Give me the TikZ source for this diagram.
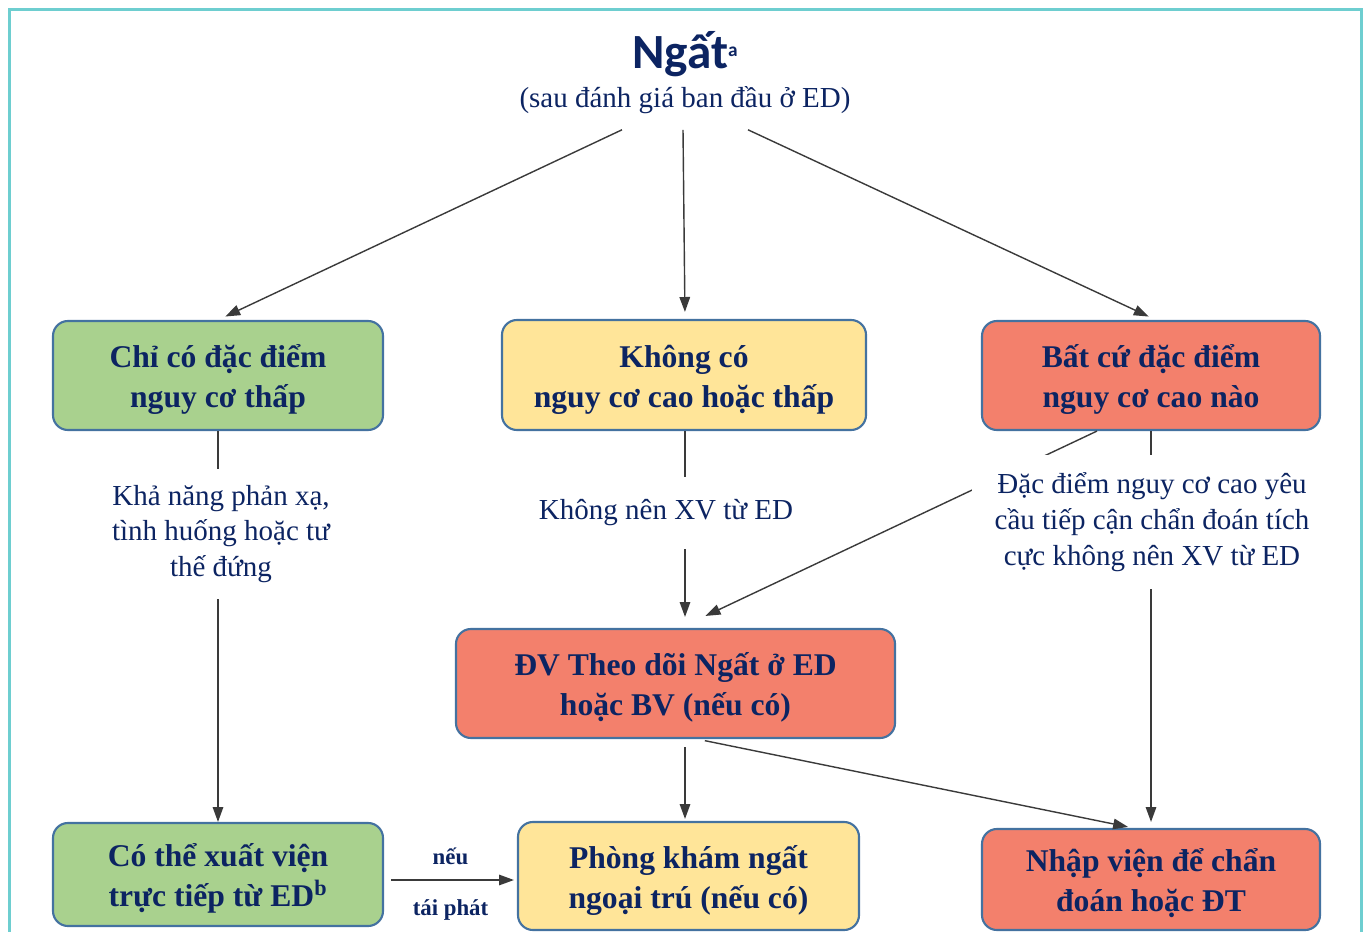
\documentclass[tikz,border=0pt]{standalone}
\usepackage{fontspec}
\setmainfont{Liberation Serif}
\newfontfamily\titlefont{Carlito}
\usetikzlibrary{arrows.meta,positioning}

\definecolor{navy}{RGB}{12,36,98}
\definecolor{frameteal}{RGB}{110,206,208}
\definecolor{boxline}{RGB}{68,114,160}
\definecolor{lowgreen}{RGB}{169,209,142}
\definecolor{midyellow}{RGB}{255,229,153}
\definecolor{highred}{RGB}{243,128,108}
\definecolor{arrowgray}{RGB}{58,58,58}
\def\pu{0.02cm}

\begin{document}
\begin{tikzpicture}[x=0.02cm,y=-0.02cm,
  box/.style={draw=boxline, line width=1.2pt, rounded corners=8.5pt, align=center,
    text=navy, inner sep=0pt, font=\fontsize{18}{22.7}\selectfont\bfseries,
    text height=41.8pt, text depth=5pt},
  greenbox/.style={box, fill=lowgreen},
  yellowbox/.style={box, fill=midyellow},
  redbox/.style={box, fill=highred},
  lbl/.style={align=center, text=navy, inner sep=9pt, font=\fontsize{16.5}{20.4}\selectfont},
  arr/.style={draw=arrowgray, line width=0.8pt, -{Triangle[length=8.5pt,width=6pt]}},
  conn/.style={draw=arrowgray, line width=0.8pt}
]
\clip (0,0) rectangle (1368,932);
\draw[frameteal, line width=1.7pt] (9.5,9.5) rectangle (1361,980);

% title
\node[text=navy, inner sep=0pt, font=\titlefont\fontsize{28}{30}\selectfont\bfseries]
  (ttl) at (685,54) {Ngất\raisebox{7pt}{\fontsize{11}{11}\selectfont a}};
\node[lbl, inner sep=0pt, below=5pt of ttl] (sub) {(sau đánh giá ban đầu ở ED)};

% first row
\node[greenbox, minimum width=330*\pu, minimum height=109*\pu] (low) at (218,375.5)
  {Chỉ có đặc điểm\\nguy cơ thấp};
\node[yellowbox, minimum width=364*\pu, minimum height=110*\pu] (mid) at (684,375)
  {Không có\\nguy cơ cao hoặc thấp};
\node[redbox, minimum width=338*\pu, minimum height=109*\pu] (high) at (1151,375.5)
  {Bất cứ đặc điểm\\nguy cơ cao nào};

% middle
\node[redbox, minimum width=439*\pu, minimum height=109*\pu] (unit) at (675.5,683.5)
  {ĐV Theo dõi Ngất ở ED\\hoặc BV (nếu có)};

% bottom row
\node[greenbox, minimum width=330*\pu, minimum height=103*\pu] (home) at (218,874.5)
  {Có thể xuất viện\\trực tiếp từ ED\textsuperscript{b}};
\node[yellowbox, minimum width=341*\pu, minimum height=108*\pu] (clinic) at (688.5,876)
  {Phòng khám ngất\\ngoại trú (nếu có)};
\node[redbox, minimum width=338*\pu, minimum height=101*\pu] (admit) at (1151,879.5)
  {Nhập viện để chẩn\\đoán hoặc ĐT};

% from the title
\draw[arr, shorten >=8*\pu] ([xshift=-63*\pu, yshift=-16*\pu]sub.south) -- (low.north);
\draw[arr, shorten >=7*\pu] ([xshift=-2*\pu, yshift=-16*\pu]sub.south) -- ([xshift=1*\pu]mid.north);
\draw[arr, shorten >=8*\pu] ([xshift=63*\pu, yshift=-16*\pu]sub.south) -- ([xshift=5*\pu]high.north);

% high risk to the unit, passing behind the label
\draw[arr] ([xshift=-54*\pu]high.south) -- ([xshift=30*\pu, yshift=12*\pu]unit.north);

% labels
\node[lbl] (lab1) at (221,534) {Khả năng phản xạ,\\tình huống hoặc tư\\thế đứng};
\node[lbl, inner ysep=13pt] (lab2) at (666,513) {Không nên XV từ ED};
\node[lbl, fill=white, inner xsep=13pt, inner ysep=10pt] (lab3) at (1152,522)
  {Đặc điểm nguy cơ cao yêu\\cầu tiếp cận chẩn đoán tích\\cực không nên XV từ ED};

% vertical paths
\draw[conn] (low) -- (low |- lab1.north);
\draw[arr] (low |- lab1.south) -- (low |- home.north);
\draw[conn] ([xshift=1*\pu]mid.south) -- ([xshift=1*\pu]mid.south |- lab2.north);
\draw[arr, shorten >=11*\pu] ([xshift=1*\pu]mid.south |- lab2.south) -- ([xshift=1*\pu]mid.south |- unit.north);
\draw[conn] (high) -- (high |- lab3.north);
\draw[arr, shorten >=6*\pu] (high |- lab3.south) -- (admit.north);

% from the unit
\draw[arr, shorten <=8*\pu, shorten >=2*\pu] ([xshift=9.5*\pu]unit.south) -- ([xshift=9.5*\pu]unit.south |- clinic.north);
\draw[arr, shorten <=8*\pu, shorten >=5*\pu] ([xshift=21.5*\pu]unit.south) -- ([xshift=-18*\pu]admit.north);

% recurrence
\draw[arr, shorten <=7*\pu, shorten >=3*\pu] ([yshift=-5.5*\pu]home.east) --
  node[above=8.5pt, inner sep=0pt, text=navy, font=\fontsize{13}{15}\selectfont\bfseries] {nếu}
  node[below=11pt, inner sep=0pt, text=navy, font=\fontsize{13}{15}\selectfont\bfseries] {tái phát}
  ([yshift=-5.5*\pu]home.east -| clinic.west);
\end{tikzpicture}
\end{document}
